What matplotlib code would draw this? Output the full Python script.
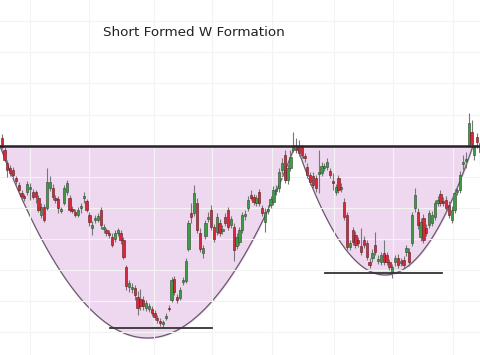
import numpy as np
import matplotlib
matplotlib.use('Agg')
import matplotlib.pyplot as plt

# candle data, price units (index = trading day)
opens = [262, 250, 237, 232, 230, 222, 215, 207, 204, 208, 211, 208, 208, 202, 185, 193, 192, 212, 212, 202,
         201, 189, 197, 208, 202, 191, 188, 185, 192, 202, 199, 185, 172, 180, 180, 190, 171, 170, 167, 163,
         161, 167, 167, 160, 133, 113, 111, 112, 103, 101, 100, 92, 91, 91, 87, 82, 79, 76, 82, 92,
         100, 121, 103, 102, 118, 119, 151, 187, 187, 197, 167, 147, 164, 181, 190, 173, 168, 177, 169, 183,
         190, 175, 173, 154, 158, 170, 184, 192, 205, 203, 197, 208, 192, 178, 189, 195, 198, 209, 212, 230,
         245, 220, 232, 250, 252, 253, 253, 244, 233, 225, 224, 222, 226, 227, 232, 233, 229, 219, 208, 222,
         211, 198, 185, 153, 170, 165, 160, 154, 160, 157, 138, 142, 155, 139, 138, 147, 145, 138, 127, 138,
         142, 137, 140, 148, 148, 157, 192, 188, 163, 182, 172, 175, 177, 183, 197, 206, 199, 200, 195, 180,
         190, 208, 210, 236, 239, 255, 268, 245, 263, 248]
highs = [266, 253, 240, 235, 233, 224, 218, 210, 206, 219, 217, 211, 210, 205, 197, 196, 232, 224, 216, 205,
         204, 193, 215, 220, 205, 194, 191, 193, 197, 208, 201, 188, 179, 185, 187, 193, 176, 172, 170, 167,
         170, 172, 170, 163, 135, 120, 117, 115, 109, 111, 104, 100, 97, 94, 90, 85, 82, 80, 87, 95,
         123, 124, 106, 113, 123, 142, 180, 197, 215, 202, 172, 155, 180, 188, 195, 176, 187, 181, 175, 187,
         193, 184, 177, 167, 173, 188, 190, 204, 210, 206, 205, 211, 195, 192, 195, 204, 214, 215, 232, 242,
         250, 236, 250, 268, 262, 260, 255, 247, 237, 228, 228, 225, 250, 238, 237, 242, 232, 227, 216, 225,
         217, 202, 188, 160, 173, 169, 163, 172, 164, 160, 142, 151, 168, 145, 148, 160, 148, 141, 136, 145,
         146, 142, 144, 155, 152, 188, 212, 192, 182, 186, 176, 190, 189, 200, 204, 210, 203, 204, 199, 194,
         211, 214, 229, 245, 248, 287, 280, 255, 267, 265]
lows = [251, 238, 223, 224, 222, 216, 208, 201, 199, 205, 200, 201, 197, 188, 182, 178, 190, 209, 200, 197,
        187, 187, 195, 205, 188, 187, 183, 183, 187, 197, 188, 174, 165, 177, 178, 171, 167, 164, 162, 153,
        158, 164, 156, 141, 110, 108, 107, 100, 85, 90, 90, 89, 88, 84, 80, 77, 74, 73, 80, 89,
        98, 105, 97, 100, 115, 117, 149, 177, 184, 167, 148, 142, 161, 178, 170, 158, 165, 164, 166, 174,
        170, 172, 139, 151, 155, 167, 180, 189, 200, 195, 194, 194, 184, 168, 186, 192, 195, 205, 208, 226,
        217, 216, 229, 248, 247, 244, 242, 238, 222, 215, 212, 208, 207, 224, 229, 230, 222, 210, 205, 207,
        208, 180, 150, 150, 155, 152, 153, 145, 152, 140, 132, 138, 145, 136, 135, 135, 135, 130, 122, 134,
        132, 134, 132, 144, 134, 154, 188, 171, 159, 157, 164, 172, 174, 180, 194, 194, 194, 189, 182, 177,
        187, 205, 207, 230, 232, 253, 253, 240, 252, 235]
closes = [253, 240, 230, 227, 225, 219, 210, 204, 202, 216, 213, 203, 203, 190, 193, 180, 218, 218, 203, 200,
          192, 191, 212, 217, 190, 189, 185, 190, 194, 204, 190, 178, 175, 182, 184, 175, 173, 167, 165, 155,
          167, 170, 160, 143, 114, 117, 113, 105, 92, 94, 94, 97, 94, 87, 83, 80, 77, 78, 84, 91,
          120, 108, 100, 110, 120, 139, 177, 183, 207, 170, 151, 152, 177, 183, 173, 161, 183, 167, 171, 177,
          173, 181, 150, 163, 170, 185, 186, 200, 202, 198, 202, 197, 187, 188, 191, 201, 210, 211, 228, 237,
          220, 232, 243, 253, 250, 247, 245, 242, 225, 218, 215, 212, 228, 234, 234, 238, 225, 217, 213, 210,
          213, 183, 153, 157, 158, 155, 157, 148, 155, 143, 135, 147, 148, 141, 145, 138, 138, 133, 133, 142,
          135, 139, 135, 152, 138, 185, 205, 175, 178, 160, 167, 187, 185, 197, 200, 197, 197, 192, 185, 190,
          207, 210, 225, 238, 241, 277, 256, 253, 258, 257]

resistance = 254
# bowls: (start day, end day, bottom price)
bowls = [(-0.6, 103.6, 62), (104.3, 166.5, 125)]
# support lines: (start day, end day, price)
supports = [(38.3, 74.3, 72), (114.2, 155.6, 127)]

fig = plt.figure(figsize=(4.8, 3.55), dpi=100)
ax = fig.add_axes([0, 0, 1, 1])
ax.set_xlim(-0.6, 169.0)
ax.set_ylim(45, 400)

ax.set_xticks([10, 30.9, 53.8, 74.3, 95.5, 117.4, 138.3, 159.5])
ax.set_yticks([379, 348, 317, 285, 254, 223, 192, 161, 130, 99, 68])
ax.grid(True, color='#f3f3f3', linewidth=0.8, zorder=0)
ax.tick_params(length=0, labelbottom=False, labelleft=False)
for s in ax.spines.values():
    s.set_visible(False)

for x0, x1, bottom in bowls:
    xs = np.linspace(x0, x1, 200)
    mid = (x0 + x1) / 2
    half = (x1 - x0) / 2
    ys = bottom + (resistance - bottom) * ((xs - mid) / half) ** 2
    ax.fill_between(xs, ys, resistance, color='#eed8f0', zorder=1)
    ax.plot(xs, ys, color='#6a5a6c', linewidth=0.9, zorder=1.5)

o = np.array(opens)
h = np.array(highs)
l = np.array(lows)
c = np.array(closes)
days = np.arange(len(o))
up = c >= o
ax.vlines(days, l, h, color='#777777', linewidth=0.8, zorder=2)
body_lo = np.minimum(o, c)
body_h = np.maximum(np.abs(c - o), 1.2)
ax.bar(days[up], body_h[up], bottom=body_lo[up], width=0.8,
       color='#3d9b46', edgecolor='#2a4a2a', linewidth=0.4, zorder=3)
ax.bar(days[~up], body_h[~up], bottom=body_lo[~up], width=0.8,
       color='#d8283c', edgecolor='#5a1a1a', linewidth=0.4, zorder=3)

ax.axhline(resistance, color='#2a2228', linewidth=1.8, zorder=4)
for x0, x1, p in supports:
    ax.plot([x0, x1], [p, p], color='#333333', linewidth=1.3, zorder=4)

ax.text(103 / 480, 1 - 36 / 355, 'Short Formed W Formation', transform=ax.transAxes,
        fontsize=9.7, color='#222222', ha='left', va='baseline')

fig.savefig('out.png', dpi=100)
